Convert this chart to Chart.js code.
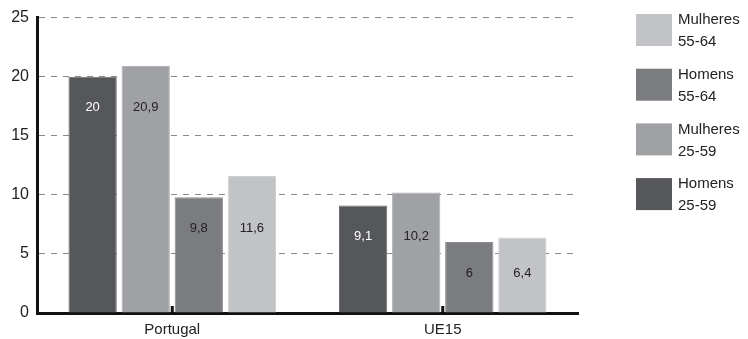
<!DOCTYPE html>
<html>
<head>
<meta charset="utf-8">
<script src="https://cdn.jsdelivr.net/npm/chart.js@4.4.0/dist/chart.umd.min.js"></script>
<style>
  html, body { margin: 0; padding: 0; background: #fff; }
  #wrap { width: 748px; height: 339px; position: relative; }
</style>
</head>
<body>
<div id="wrap"><canvas id="empregoChart"></canvas></div>
<script>
// categorias e séries
const regioes = ['Portugal', 'UE15'];
const homens2559 = [20, 9.1];
const mulheres2559 = [20.9, 10.2];
const homens5564 = [9.8, 6];
const mulheres5564 = [11.6, 6.4];
const yTicks = [0, 5, 10, 15, 20, 25];

const series = [
    { nome: ['Homens', '25-59'], dados: homens2559, cor: '#55575a', borda: '#6a6c6f', txt: '#ffffff' },
    { nome: ['Mulheres', '25-59'], dados: mulheres2559, cor: '#a0a1a4', borda: '#b0b1b4', txt: '#222222' },
    { nome: ['Homens', '55-64'], dados: homens5564, cor: '#7b7c80', borda: '#8c8d91', txt: '#222222' },
    { nome: ['Mulheres', '55-64'], dados: mulheres5564, cor: '#c2c3c6', borda: '#cfd0d2', txt: '#222222' }
];

const fonte = '"Liberation Sans", Arial, sans-serif';

// valores dentro das barras (cada par partilha a mesma altura de texto)
const valoresPlugin = {
    id: 'valores',
    afterDatasetsDraw(chart) {
        const ctx = chart.ctx;
        ctx.save();
        ctx.font = '13px ' + fonte;
        ctx.textAlign = 'center';
        ctx.textBaseline = 'middle';
        chart.data.datasets.forEach((ds, i) => {
            const par = i < 2 ? [0, 1] : [2, 3];
            chart.getDatasetMeta(i).data.forEach((bar, j) => {
                const topo = Math.max(
                    chart.getDatasetMeta(par[0]).data[j].y,
                    chart.getDatasetMeta(par[1]).data[j].y
                );
                ctx.fillStyle = series[i].txt;
                ctx.fillText(String(ds.data[j]).replace('.', ','), bar.x, topo + 31);
            });
        });
        ctx.restore();
    }
};

// pequeno traço no eixo x ao centro de cada grupo
const tracosPlugin = {
    id: 'tracos',
    afterDatasetsDraw(chart) {
        const ctx = chart.ctx;
        const x = chart.scales.x;
        const base = chart.chartArea.bottom;
        ctx.save();
        ctx.fillStyle = '#111';
        regioes.forEach((r, i) => {
            const px = x.getPixelForValue(i);
            ctx.fillRect(px - 1.5, base - 7, 3, 7);
        });
        ctx.restore();
    }
};

// legenda à direita, ordem inversa
const legendaPlugin = {
    id: 'legenda',
    afterDraw(chart) {
        const ctx = chart.ctx;
        ctx.save();
        ctx.font = '15px ' + fonte;
        ctx.textBaseline = 'middle';
        ctx.textAlign = 'left';
        const ordem = [3, 2, 1, 0];
        ordem.forEach((k, n) => {
            const y = 14 + n * 54.7;
            ctx.fillStyle = series[k].cor;
            ctx.fillRect(636, y, 36, 32);
            ctx.fillStyle = '#222';
            ctx.fillText(series[k].nome[0], 678, y + 6);
            ctx.fillText(series[k].nome[1], 678, y + 28);
        });
        ctx.restore();
    }
};

const ctx = document.getElementById('empregoChart').getContext('2d');
const empregoChart = new Chart(ctx, {
    type: 'bar',
    data: {
        labels: regioes,
        datasets: series.map(s => ({
            label: s.nome.join(' '),
            data: s.dados,
            backgroundColor: s.cor,
            borderColor: s.borda,
            borderWidth: 1,
            categoryPercentage: 0.785,
            barPercentage: 0.91
        }))
    },
    options: {
        responsive: true,
        maintainAspectRatio: false,
        animation: false,
        layout: {
            padding: { top: 15, right: 170, bottom: 0, left: 0 }
        },
        scales: {
            y: {
                min: 0,
                max: 25,
                afterFit(scale) { scale.width = 37; },
                afterBuildTicks(scale) { scale.ticks = yTicks.map(v => ({ value: v })); },
                // border.dash vale para as linhas da grelha; o eixo fica contínuo
                border: { color: '#111', width: 3, dash: [6, 6] },
                grid: {
                    color: c => c.tick && c.tick.value === 0 ? 'rgba(0,0,0,0)' : '#8a8a8a',
                    lineWidth: 1,
                    drawTicks: false
                },
                ticks: {
                    color: '#222',
                    padding: 8,
                    font: { size: 16, family: fonte }
                }
            },
            x: {
                afterFit(scale) { scale.height = 26; },
                border: { color: '#111', width: 3 },
                grid: { display: false, drawTicks: false },
                ticks: {
                    color: '#222',
                    padding: 8,
                    font: { size: 15, family: fonte }
                }
            }
        },
        plugins: {
            legend: { display: false },
            tooltip: { enabled: false }
        }
    },
    plugins: [valoresPlugin, tracosPlugin, legendaPlugin]
});
</script>
</body>
</html>
